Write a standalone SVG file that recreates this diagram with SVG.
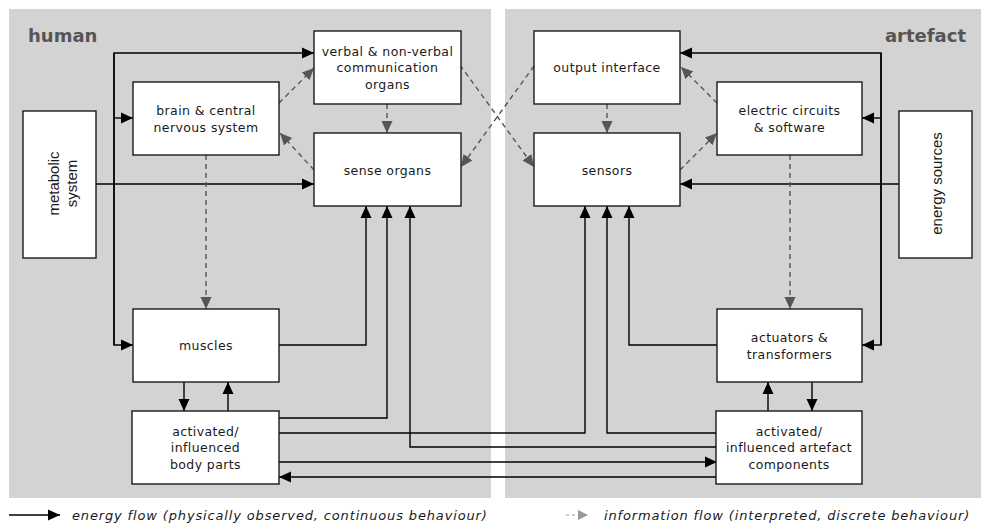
<svg xmlns="http://www.w3.org/2000/svg" width="981" height="528" viewBox="0 0 981 528">
  <style>
    .panel { fill: #d3d3d3; }
    .box { fill: #ffffff; stroke: #1a1a1a; stroke-width: 1.4; }
    .lbl { font-family: "DejaVu Sans", Verdana, sans-serif; font-size: 12.5px; letter-spacing: 0.4px; fill: #1a1a1a; text-anchor: middle; }
    .vlbl { font-family: "Liberation Sans", Arial, sans-serif; font-size: 15px; fill: #1a1a1a; text-anchor: middle; }
    .side { font-family: "DejaVu Sans", Verdana, sans-serif; font-size: 18px; font-weight: bold; fill: #555555; }
    .legend { font-family: "DejaVu Sans", Verdana, sans-serif; font-size: 13px; font-style: italic; letter-spacing: 0.85px; fill: #1a1a1a; }
    .energy { fill: none; stroke: #000000; stroke-width: 1.4; marker-end: url(#solidHead); }
    .info { fill: none; stroke: #555555; stroke-width: 1.4; stroke-dasharray: 5 4; marker-end: url(#infoHead); }
  </style>
  <defs>
    <marker id="solidHead" markerUnits="userSpaceOnUse" markerWidth="13" markerHeight="13" refX="12" refY="6" orient="auto" viewBox="0 0 13 13">
      <path d="M0,0.5 L12,6 L0,11.5 z" fill="#000000"/>
    </marker>
    <marker id="infoHead" markerUnits="userSpaceOnUse" markerWidth="13" markerHeight="13" refX="12" refY="6" orient="auto" viewBox="0 0 13 13">
      <path d="M0,0.5 L12,6 L0,11.5 z" fill="#555555"/>
    </marker>
    <marker id="legendInfoHead" markerUnits="userSpaceOnUse" markerWidth="13" markerHeight="13" refX="10" refY="5" orient="auto" viewBox="0 0 13 13">
      <path d="M0,0 L10,5 L0,10 z" fill="#999999"/>
    </marker>
  </defs>

  <!-- background panels -->
  <rect class="panel" x="9" y="9" width="482" height="489"/>
  <rect class="panel" x="505" y="9" width="476" height="489"/>
  <text class="side" x="28" y="41.5">human</text>
  <text class="side" x="966" y="41.5" text-anchor="end">artefact</text>

  <!-- connectors -->
  <g id="connectors">
    <!-- human energy supply -->
    <path class="energy" d="M114,345 L114,53 L314,53"/>
    <path class="energy" d="M114,53 L114,345 L133,345"/>
    <path class="energy" d="M114,118 L133,118"/>
    <path class="energy" d="M96,184 L314,184"/>
    <!-- artefact energy supply -->
    <path class="energy" d="M881,345 L881,53 L680,53"/>
    <path class="energy" d="M881,53 L881,345 L862,345"/>
    <path class="energy" d="M881,118 L862,118"/>
    <path class="energy" d="M899,184 L680,184"/>
    <!-- feedback into sense organs -->
    <path class="energy" d="M279,345 L366,345 L366,206"/>
    <path class="energy" d="M279,418 L387,418 L387,206"/>
    <path class="energy" d="M717,447 L410,447 L410,206"/>
    <!-- feedback into sensors -->
    <path class="energy" d="M279,433 L585,433 L585,206"/>
    <path class="energy" d="M717,433 L607,433 L607,206"/>
    <path class="energy" d="M717,345 L629,345 L629,206"/>
    <!-- physical exchange between body and artefact -->
    <path class="energy" d="M279,462 L717,462"/>
    <path class="energy" d="M717,477 L279,477"/>
    <!-- muscles / body parts -->
    <path class="energy" d="M184,382 L184,411"/>
    <path class="energy" d="M228,411 L228,382"/>
    <!-- actuators / artefact components -->
    <path class="energy" d="M768,411 L768,382"/>
    <path class="energy" d="M812,382 L812,411"/>

    <!-- information flows -->
    <path class="info" d="M279,103 L314,68"/>
    <path class="info" d="M314,170 L280,133"/>
    <path class="info" d="M460,65 L534,167"/>
    <path class="info" d="M534,66 L461,167"/>
    <path class="info" d="M717,103 L681,67"/>
    <path class="info" d="M680,170 L717,133"/>
    <path class="info" d="M206,155 L206,309"/>
    <path class="info" d="M790,155 L790,309"/>
    <path class="info" d="M387,104 L387,133"/>
    <path class="info" d="M607,104 L607,133"/>
  </g>

  <!-- human side -->
  <g id="metabolic-system">
    <rect class="box" x="23" y="111" width="73" height="147"/>
    <text class="vlbl" transform="translate(58.5,183.5) rotate(-90)">metabolic</text>
    <text class="vlbl" transform="translate(77,183.5) rotate(-90)">system</text>
  </g>
  <g id="brain">
    <rect class="box" x="133" y="82" width="146" height="73"/>
    <text class="lbl" x="206" y="115">brain &amp; central</text>
    <text class="lbl" x="206" y="131.7">nervous system</text>
  </g>
  <g id="communication-organs">
    <rect class="box" x="314" y="31" width="147" height="73"/>
    <text class="lbl" x="387.5" y="55.5">verbal &amp; non-verbal</text>
    <text class="lbl" x="387.5" y="72.2">communication</text>
    <text class="lbl" x="387.5" y="88.9">organs</text>
  </g>
  <g id="sense-organs">
    <rect class="box" x="314" y="133" width="147" height="73"/>
    <text class="lbl" x="387.5" y="174.5">sense organs</text>
  </g>
  <g id="muscles">
    <rect class="box" x="133" y="309" width="146" height="73"/>
    <text class="lbl" x="206" y="350">muscles</text>
  </g>
  <g id="body-parts">
    <rect class="box" x="132" y="411" width="147" height="73"/>
    <text class="lbl" x="205.5" y="435.5">activated/</text>
    <text class="lbl" x="205.5" y="452.2">influenced</text>
    <text class="lbl" x="205.5" y="468.9">body parts</text>
  </g>

  <!-- artefact side -->
  <g id="output-interface">
    <rect class="box" x="534" y="31" width="146" height="73"/>
    <text class="lbl" x="607" y="72">output interface</text>
  </g>
  <g id="sensors">
    <rect class="box" x="534" y="133" width="146" height="73"/>
    <text class="lbl" x="607" y="174.5">sensors</text>
  </g>
  <g id="electric-circuits">
    <rect class="box" x="717" y="82" width="145" height="73"/>
    <text class="lbl" x="789.5" y="115">electric circuits</text>
    <text class="lbl" x="789.5" y="131.7">&amp; software</text>
  </g>
  <g id="energy-sources">
    <rect class="box" x="899" y="111" width="73" height="147"/>
    <text class="vlbl" transform="translate(942,183.5) rotate(-90)">energy sources</text>
  </g>
  <g id="actuators">
    <rect class="box" x="717" y="309" width="145" height="73"/>
    <text class="lbl" x="789.5" y="342">actuators &amp;</text>
    <text class="lbl" x="789.5" y="358.7">transformers</text>
  </g>
  <g id="artefact-components">
    <rect class="box" x="716" y="411" width="146" height="73"/>
    <text class="lbl" x="789" y="435.5">activated/</text>
    <text class="lbl" x="789" y="452.2">influenced artefact</text>
    <text class="lbl" x="789" y="468.9">components</text>
  </g>

  <!-- legend -->
  <g id="legend">
    <path class="energy" d="M9,515 L60,515"/>
    <text class="legend" x="72" y="519.5">energy flow (physically observed, continuous behaviour)</text>
    <path d="M566,515 L588,515" fill="none" stroke="#999999" stroke-width="1.2" stroke-dasharray="3 3" marker-end="url(#legendInfoHead)"/>
    <text class="legend" x="604" y="519.5">information flow (interpreted, discrete behaviour)</text>
  </g>
</svg>
